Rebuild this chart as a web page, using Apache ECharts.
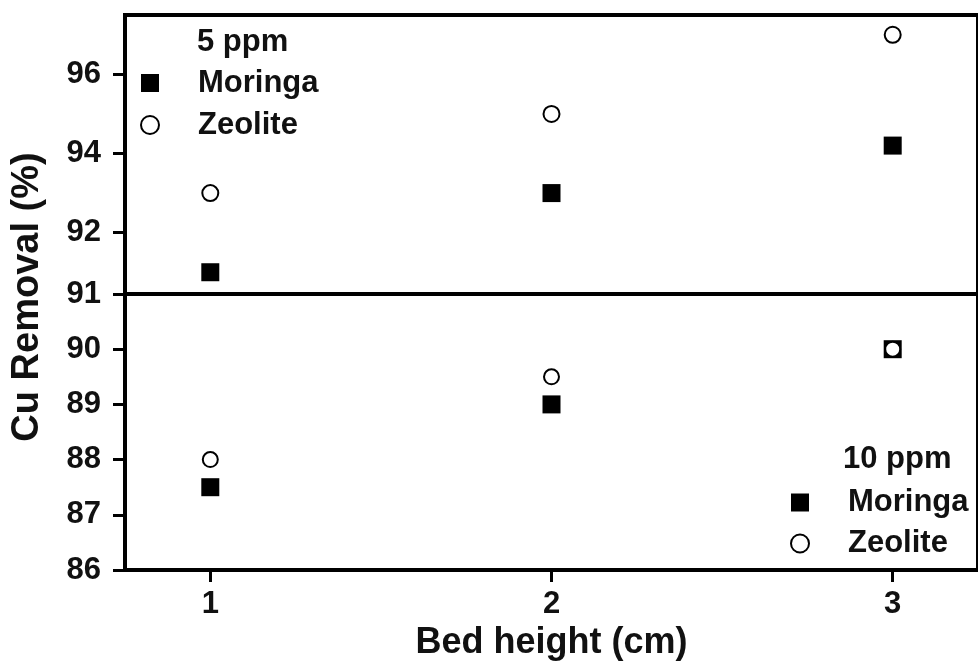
<!DOCTYPE html>
<html>
<head>
<meta charset="utf-8">
<script src="https://cdn.jsdelivr.net/npm/echarts@6/dist/echarts.min.js"></script>
<style>html,body{margin:0;padding:0;background:#fff;}#c{width:978px;height:667px;}</style>
</head>
<body>
<div id="c"></div>
<script>
// ---- data ----
const bedHeights = [1, 2, 3];
const moringa5 = [91.0, 93.0, 94.2];
const zeolite5 = [93.0, 95.0, 97.0];
const moringa10 = [87.5, 89.0, 90.0];
const zeolite10 = [88.0, 89.5, 90.0];
const xTicks = [1, 2, 3];
const yTicksTop = [92, 94, 96];
const yTicksBottom = [86, 87, 88, 89, 90, 91];

const FONT = 'Liberation Sans, Arial, sans-serif';
const INK = '#111';
const pair = (xs, ys) => xs.map((x, i) => [x, ys[i]]);

const chart = echarts.init(document.getElementById('c'), null, {renderer: 'canvas'});
const axisLine = {show: true, lineStyle: {color: '#000', width: 4}};
const axisTick = (vals) => ({show: true, inside: false, length: 12, customValues: vals, lineStyle: {color: '#000', width: 3}});
const labelStyle = {color: INK, fontFamily: FONT, fontSize: 31, fontWeight: 'bold'};

const squareStyle = {color: '#000', borderWidth: 0, opacity: 1};
const circleStyle = {color: '#fff', borderColor: '#000', borderWidth: 2, opacity: 1};

const legendText = (lh) => ({color: INK, fontFamily: FONT, fontSize: 31, fontWeight: 'bold', lineHeight: lh, padding: [0, 0, 0, 34]});

chart.setOption({
  animation: false,
  backgroundColor: '#fff',
  grid: [
    {left: 125, right: -3, top: 15, height: 279, show: true, borderColor: '#000', borderWidth: 4, backgroundColor: 'transparent'},
    {left: 125, right: -3, top: 294, height: 276, show: true, borderColor: '#000', borderWidth: 4, backgroundColor: 'transparent'}
  ],
  xAxis: [
    {gridIndex: 0, type: 'value', min: 0.75, max: 3.25, show: false, splitLine: {show: false}},
    {gridIndex: 1, type: 'value', min: 0.75, max: 3.25,
     axisLine: axisLine, axisTick: axisTick(xTicks),
     axisLabel: Object.assign({customValues: xTicks, margin: 19}, labelStyle),
     splitLine: {show: false},
     name: 'Bed height (cm)', nameLocation: 'middle', nameGap: 55,
     nameTextStyle: {color: INK, fontFamily: FONT, fontSize: 36, fontWeight: 'bold'}}
  ],
  yAxis: [
    {gridIndex: 0, type: 'value', min: 90.45, max: 97.5,
     axisLine: axisLine, axisTick: axisTick(yTicksTop),
     axisLabel: Object.assign({customValues: yTicksTop, margin: 24}, labelStyle),
     splitLine: {show: false}},
    {gridIndex: 1, type: 'value', min: 86, max: 91, interval: 1,
     axisLine: axisLine, axisTick: axisTick(yTicksBottom),
     axisLabel: Object.assign({customValues: yTicksBottom, margin: 24}, labelStyle),
     splitLine: {show: false}}
  ],
  legend: [
    {data: ['Moringa 5ppm', 'Zeolite 5ppm'], orient: 'vertical', left: 140, top: 62, padding: 0,
     itemWidth: 18, itemHeight: 18, itemGap: 0, selectedMode: false,
     formatter: n => n.split(' ')[0], textStyle: legendText(42)},
    {data: ['Moringa 10ppm', 'Zeolite 10ppm'], orient: 'vertical', left: 790, top: 482, padding: 0,
     itemWidth: 18, itemHeight: 18, itemGap: 0, selectedMode: false,
     formatter: n => n.split(' ')[0], textStyle: legendText(41)}
  ],
  graphic: [
    {type: 'text', left: 197, top: 27, style: {text: '5 ppm', fill: INK, font: 'bold 31px ' + FONT}},
    {type: 'text', left: 843, top: 444, style: {text: '10 ppm', fill: INK, font: 'bold 31px ' + FONT}},
    {type: 'text', x: 28, y: 297, rotation: Math.PI / 2,
     style: {text: 'Cu Removal (%)', fill: INK, font: 'bold 38px ' + FONT, align: 'center', verticalAlign: 'middle'}}
  ],
  series: [
    {name: 'Moringa 5ppm', type: 'scatter', xAxisIndex: 0, yAxisIndex: 0, symbol: 'rect', symbolSize: 18,
     itemStyle: squareStyle, data: pair(bedHeights, moringa5), z: 2},
    {name: 'Zeolite 5ppm', type: 'scatter', xAxisIndex: 0, yAxisIndex: 0, symbol: 'circle', symbolSize: 16,
     itemStyle: circleStyle, data: pair(bedHeights, zeolite5), z: 3},
    {name: 'Moringa 10ppm', type: 'scatter', xAxisIndex: 1, yAxisIndex: 1, symbol: 'rect', symbolSize: 18,
     itemStyle: squareStyle, data: pair(bedHeights, moringa10), z: 2},
    {name: 'Zeolite 10ppm', type: 'scatter', xAxisIndex: 1, yAxisIndex: 1, symbol: 'circle', symbolSize: 15,
     itemStyle: circleStyle, data: pair(bedHeights, zeolite10), z: 3}
  ]
});
</script>
</body>
</html>
